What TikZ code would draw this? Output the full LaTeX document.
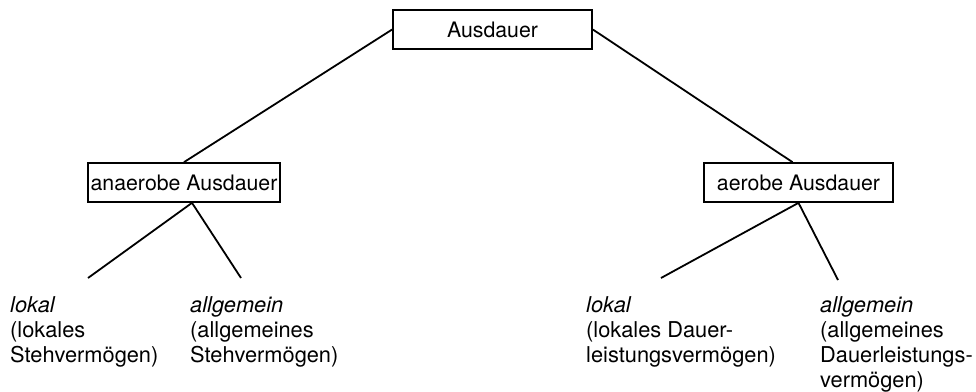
\documentclass[tikz,border=0pt]{standalone}
\usepackage{fontspec}
\setmainfont{TeX Gyre Heros}
\begin{document}
\begin{tikzpicture}[x=1pt,y=-1pt,
  box/.style={draw,line width=1.7pt,inner sep=0pt,minimum height=39pt,font=\fontsize{21.3}{25}\selectfont},
  leaf/.style={align=left,anchor=base west,inner sep=0pt,font=\fontsize{21.8}{25}\selectfont},
  conn/.style={line width=1.8pt}]
\useasboundingbox (0,0) rectangle (976,391);
\node[box,minimum width=199pt] (top) at (492.5,29.5) {Ausdauer};
\node[box,minimum width=192pt] (ana) at (184,182.5) {anaerobe Ausdauer};
\node[box,minimum width=189pt] (aer) at (798.5,182.5) {aerobe Ausdauer};
\node[leaf] (l1) at (10,362) {\textit{lokal}\\(lokales\\Stehvermögen)};
\node[leaf] (l2) at (190,362) {\textit{allgemein}\\(allgemeines\\Stehvermögen)};
\node[leaf] (l3) at (586,362) {\textit{lokal}\\(lokales Dauer-\\leistungsvermögen)};
\node[leaf] (l4) at (820,387) {\textit{allgemein}\\(allgemeines\\Dauerleistungs-\\vermögen)};
\coordinate (e1) at (88,278);
\coordinate (e2) at (241,278);
\coordinate (e3) at (661,278);
\coordinate (e4) at (838,280);
\draw[conn] (top.west) -- (ana.north);
\draw[conn] (top.east) -- ([xshift=-6pt]aer.north);
\draw[conn] ([xshift=8pt]ana.south) -- (e1);
\draw[conn] ([xshift=8pt]ana.south) -- (e2);
\draw[conn] (aer.south) -- (e3);
\draw[conn] (aer.south) -- (e4);
\end{tikzpicture}
\end{document}
